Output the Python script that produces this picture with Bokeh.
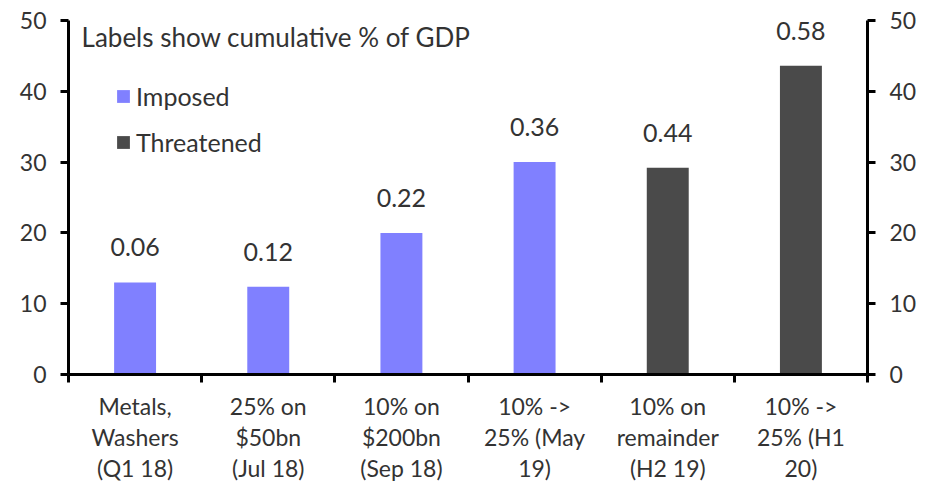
from bokeh.plotting import figure
from bokeh.models import (ColumnDataSource, LinearAxis, FixedTicker, Legend, LegendItem,
                          Label, Range1d)
from bokeh.core.properties import value
from bokeh.embed import file_html
from bokeh.resources import INLINE

categories = ["Metals,\nWashers\n(Q1 18)", "25% on\n$50bn\n(Jul 18)", "10% on\n$200bn\n(Sep 18)",
              "10% ->\n25% (May\n19)", "10% on\nremainder\n(H2 19)", "10% ->\n25% (H1\n20)"]
values = [13.0, 12.4, 20.0, 30.0, 29.2, 43.6]
gdp_labels = ["0.06", "0.12", "0.22", "0.36", "0.44", "0.58"]
status = ["Imposed", "Imposed", "Imposed", "Imposed", "Threatened", "Threatened"]
y_ticks = [0, 10, 20, 30, 40, 50]
note = "Labels show cumulative % of GDP"

FONT = "Lato"
TXT = "#333333"
colors = {"Imposed": "#8080FF", "Threatened": "#4a4a4a"}

W, H = 930, 484
B_L, B_R, B_T, B_B = 68, 63, 20, 110
YMAX = 50
px_per_unit = (H - B_T - B_B) / YMAX

xs = [i + 0.5 for i in range(len(categories))]
src = ColumnDataSource(dict(x=xs, top=values, lab=gdp_labels))

p = figure(width=W, height=H, output_backend="svg", toolbar_location=None,
           x_range=Range1d(0, len(categories)), y_range=Range1d(0, YMAX),
           min_border_left=B_L, min_border_right=B_R, min_border_top=B_T, min_border_bottom=B_B)
p.outline_line_color = None
p.grid.visible = False
p.xaxis.visible = False
p.yaxis.visible = False

imp_idx = [i for i in range(6) if status[i] == "Imposed"]
thr_idx = [i for i in range(6) if status[i] == "Threatened"]
r_imp = p.vbar(x=[xs[i] for i in imp_idx], top=[values[i] for i in imp_idx],
               width=0.315, fill_color=colors["Imposed"], line_color=None)
r_thr = p.vbar(x=[xs[i] for i in thr_idx], top=[values[i] for i in thr_idx],
               width=0.315, fill_color=colors["Threatened"], line_color=None)

p.text(x="x", y="top", text="lab", source=src, y_offset=-35, text_align="center",
       text_baseline="alphabetic", text_font=value(FONT), text_font_size="25px",
       text_color=TXT)

def style_axis(ax, size="23px"):
    ax.axis_line_width = 3
    ax.axis_line_color = "black"
    ax.major_tick_line_width = 3
    ax.major_tick_line_color = "black"
    ax.major_label_text_font = FONT
    ax.major_label_text_font_size = size
    ax.major_label_text_color = TXT

for side in ("left", "right"):
    ax = LinearAxis(ticker=FixedTicker(ticks=y_ticks))
    style_axis(ax)
    ax.major_tick_in = 0
    ax.major_tick_out = 8
    ax.minor_tick_line_color = None
    ax.major_label_standoff = 14
    p.add_layout(ax, side)

# category labels: one axis per text line, stacked below the plot
lines = [c.split("\n") for c in categories]
for k in range(3):
    if k == 0:
        ticker = FixedTicker(ticks=xs, minor_ticks=list(range(len(categories) + 1)))
    else:
        ticker = FixedTicker(ticks=xs, minor_ticks=[])
    xb = LinearAxis(ticker=ticker)
    style_axis(xb, "23px")
    xb.major_tick_in = 0
    xb.major_tick_out = 0
    xb.major_tick_line_color = None
    xb.minor_tick_in = 0
    if k == 0:
        xb.minor_tick_out = 8
        xb.minor_tick_line_width = 3
        xb.minor_tick_line_color = "black"
        xb.major_label_standoff = 9
    else:
        xb.axis_line_color = None
        xb.minor_tick_line_color = None
        xb.minor_tick_out = 0
        xb.major_label_standoff = 0
    xb.major_label_overrides = {xs[i]: lines[i][k] for i in range(len(categories))}
    p.add_layout(xb, "below")

p.add_layout(Label(x=0.098, y=YMAX - 16 / px_per_unit, text=note, text_font=FONT,
                   text_baseline="alphabetic", text_font_size="26px", text_color=TXT))

legend = Legend(items=[LegendItem(label="Imposed", renderers=[r_imp]),
                       LegendItem(label="Threatened", renderers=[r_thr])],
                location=(47, 217), orientation="vertical")
legend.background_fill_alpha = 0
legend.border_line_color = None
legend.glyph_width = 16
legend.glyph_height = 16
legend.label_standoff = 5
legend.spacing = 16
legend.padding = 0
legend.margin = 0
legend.label_text_font = FONT
legend.label_text_font_size = "25px"
legend.label_text_color = TXT
p.add_layout(legend)

open("out.html", "w").write(file_html(p, INLINE))
